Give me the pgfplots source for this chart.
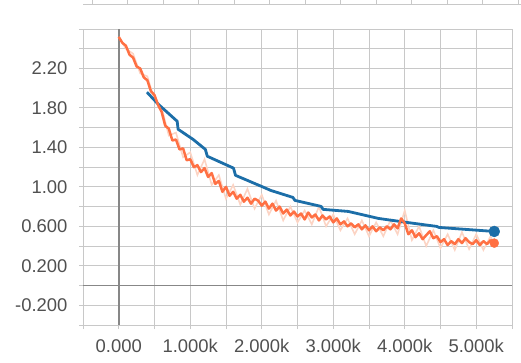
\documentclass[border=0pt]{standalone}
\usepackage{pgfplots}
\pgfplotsset{compat=1.18}
\usepackage{fontspec}
\setmainfont{Liberation Sans}
\definecolor{tbblue}{RGB}{28,110,168}
\definecolor{tborange}{RGB}{255,112,67}
\definecolor{tbpale}{RGB}{252,212,196}
\definecolor{gridc}{RGB}{200,200,200}
\definecolor{zeroc}{RGB}{135,135,135}
\definecolor{labc}{RGB}{80,80,80}
\begin{document}
\begin{tikzpicture}
\begin{axis}[
  name=ax,
  scale only axis,
  width=429bp, height=296bp,
  xmin=-500, xmax=5500, ymin=-0.4, ymax=2.6,
  axis line style={draw=gridc, line width=1bp},
  xtick={0,1000,2000,3000,4000,5000},
  xticklabels={0.000,1.000k,2.000k,3.000k,4.000k,5.000k},
  minor xtick={-500,500,1500,2500,3500,4500,5500},
  ytick={-0.2,0.2,0.6,1.0,1.4,1.8,2.2},
  yticklabels={-0.200,0.200,0.600,1.00,1.40,1.80,2.20},
  minor ytick={-0.4,0,0.4,0.8,1.2,1.6,2.0,2.4,2.6},
  grid=both,
  major grid style={draw=gridc, line width=1bp},
  minor grid style={draw=gridc, line width=1bp},
  tick align=outside,
  xtick pos=bottom, ytick pos=left,
  major tick length=4bp, minor tick length=4bp,
  every tick/.style={draw=gridc, line width=1bp},
  tick label style={font=\fontsize{18.5}{20}\selectfont, text=labc},
  /pgf/number format/assume math mode=true,
  yticklabel style={xshift=-8bp},
  xticklabel style={yshift=-7bp},
  extra x ticks={0}, extra x tick labels={},
  extra y ticks={0}, extra y tick labels={},
  extra tick style={major grid style={draw=zeroc, line width=1.8bp}, major tick length=0pt},
  clip=true,
]
% raw (unsmoothed) series, pale
\addplot[tbpale, line width=1.6bp] coordinates {
(0,2.52)(100,2.40)(200,2.35)(300,2.15)(400,2.12)(500,1.88)(600,1.80)(700,1.52)(800,1.55)(900,1.30)
(1000,1.35)(1100,1.12)(1200,1.28)(1300,1.02)(1400,1.12)(1500,0.88)(1600,1.02)(1700,0.82)(1800,0.98)(1900,0.78)
(2000,0.92)(2100,0.72)(2200,0.86)(2300,0.66)(2400,0.80)(2500,0.64)(2600,0.76)(2700,0.62)(2800,0.80)(2900,0.60)
(3000,0.72)(3100,0.56)(3200,0.68)(3300,0.52)(3400,0.66)(3500,0.50)(3600,0.64)(3700,0.50)(3800,0.66)(3900,0.52)
(4000,0.76)(4100,0.46)(4200,0.60)(4300,0.40)(4400,0.56)(4500,0.38)(4600,0.52)(4700,0.36)(4800,0.54)(4900,0.37)
(5000,0.52)(5100,0.36)(5200,0.50)(5250,0.42)
};
% blue series
\addplot[tbblue, line width=2.8bp, line join=round] coordinates {
(394,1.96)(549,1.84)(817,1.665)(830,1.584)(1042,1.48)(1211,1.38)(1239,1.31)(1605,1.19)(1633,1.117)
(2028,0.995)(2126,0.964)(2436,0.893)(2464,0.863)(2830,0.802)(2858,0.772)(3210,0.751)(3633,0.680)
(3928,0.650)(4027,0.64)(4449,0.599)(4477,0.589)(5252,0.548)
};
% orange smoothed series
\addplot[tborange, line width=2.5bp, line join=round] coordinates {
(0,2.52)(50,2.46)(100,2.43)(150,2.34)(200,2.31)(250,2.22)(300,2.20)(350,2.11)(400,2.08)(450,1.97)
(500,1.93)(550,1.83)(600,1.76)(650,1.62)(700,1.59)(750,1.47)(800,1.48)(850,1.38)(900,1.39)(950,1.27)
(1000,1.28)(1050,1.20)(1100,1.22)(1150,1.15)(1200,1.19)(1250,1.10)(1300,1.14)(1350,1.03)(1400,1.06)(1450,0.95)
(1500,1.00)(1550,0.91)(1600,0.95)(1650,0.88)(1700,0.92)(1750,0.85)(1800,0.89)(1850,0.83)(1900,0.88)(1950,0.86)
(2000,0.81)(2050,0.85)(2100,0.78)(2150,0.83)(2200,0.76)(2250,0.80)(2300,0.73)(2350,0.77)(2400,0.71)(2450,0.75)
(2500,0.70)(2550,0.73)(2600,0.67)(2650,0.74)(2700,0.69)(2750,0.72)(2800,0.66)(2850,0.71)(2900,0.67)(2950,0.70)
(3000,0.64)(3050,0.68)(3100,0.62)(3150,0.65)(3200,0.60)(3250,0.63)(3300,0.59)(3350,0.62)(3400,0.57)(3450,0.61)
(3500,0.56)(3550,0.60)(3600,0.55)(3650,0.59)(3700,0.56)(3750,0.60)(3800,0.57)(3850,0.62)(3900,0.58)(3950,0.68)
(4000,0.63)(4050,0.52)(4100,0.56)(4150,0.49)(4200,0.53)(4250,0.47)(4300,0.51)(4350,0.55)(4400,0.48)(4450,0.50)
(4500,0.44)(4550,0.47)(4600,0.41)(4650,0.45)(4700,0.42)(4750,0.47)(4800,0.43)(4850,0.48)(4900,0.44)(4950,0.42)
(5000,0.46)(5050,0.41)(5100,0.45)(5150,0.42)(5200,0.46)(5250,0.43)
};
% end markers
\addplot[only marks, mark=*, mark size=4.5bp, tborange, mark options={draw=tborange, fill=tborange}] coordinates {(5252,0.43)};
\addplot[only marks, mark=*, mark size=5.5bp, tbblue, mark options={draw=tbblue, fill=tbblue}] coordinates {(5252,0.548)};
\end{axis}
% remnant of the chart above: a light axis line with ticks
\draw[gridc, line width=1bp] ([yshift=24bp]ax.north west) -- ++(438bp,0);
\foreach \k in {0,...,12} {
  \draw[gridc, line width=1bp] ([xshift={9bp+35.5bp*\k}, yshift=24bp]ax.north west) -- ++(0,5bp);
}
\pgfresetboundingbox
\path[use as bounding box] ([xshift=-83bp, yshift=-37bp]ax.south west) rectangle ([xshift=9bp, yshift=29bp]ax.north east);
\end{tikzpicture}
\end{document}
